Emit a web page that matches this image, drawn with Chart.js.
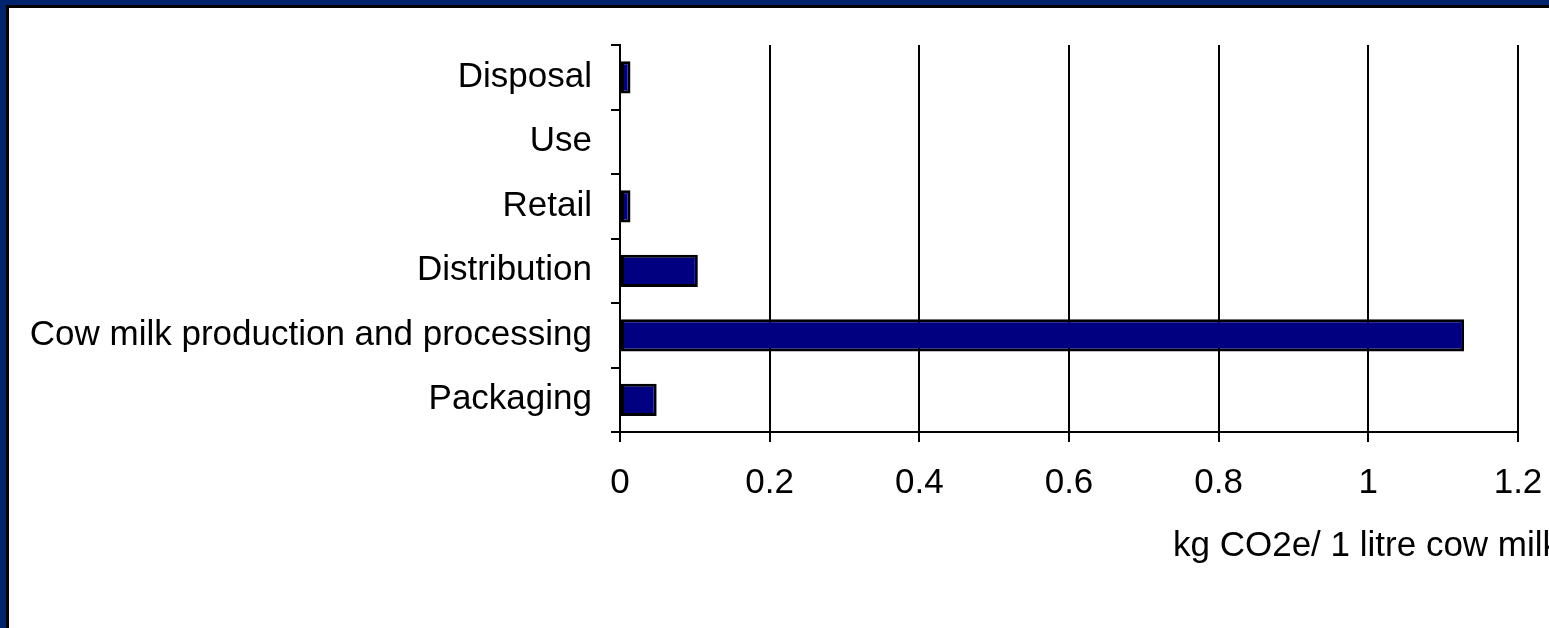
<!DOCTYPE html>
<html>
<head>
<meta charset="utf-8">
<script src="https://cdn.jsdelivr.net/npm/chart.js@4"></script>
<style>
  html, body { margin: 0; padding: 0; overflow: hidden; }
  body { width: 1549px; height: 628px; background: #00236e; position: relative; }
  #frame { position: absolute; left: 6px; top: 5px; right: 0; bottom: 0;
           border-top: 3px solid #000; border-left: 3px solid #000; background: #fff; }
  #wrap { position: absolute; left: 0; top: 0; width: 1549px; height: 628px; }
</style>
</head>
<body>
<div id="frame"></div>
<div id="wrap"><canvas id="chart" width="1549" height="628"></canvas></div>
<script>
const stages = ['Disposal', 'Use', 'Retail', 'Distribution', 'Cow milk production and processing', 'Packaging'];
const emissions = [0.014, 0, 0.014, 0.104, 1.128, 0.049];
const xTickLabels = ['0', '0.2', '0.4', '0.6', '0.8', '1', '1.2'];
const axisTitle = 'kg CO2e/ 1 litre cow milk';

const fontFamily = '"Liberation Sans", Arial, sans-serif';

// axis title sits right-aligned under the scale and runs off the edge
const axisTitlePlugin = {
  id: 'axisTitle',
  afterDraw(chart) {
    const ctx = chart.ctx;
    ctx.save();
    ctx.font = '35px ' + fontFamily;
    ctx.fillStyle = '#000';
    ctx.textAlign = 'left';
    ctx.textBaseline = 'middle';
    ctx.fillText(axisTitle, chart.chartArea.right - 345, 546);
    ctx.restore();
  }
};

new Chart(document.getElementById('chart'), {
  type: 'bar',
  data: {
    labels: stages,
    datasets: [{
      data: emissions,
      backgroundColor: '#000080',
      borderColor: '#000',
      borderWidth: 3,
      borderSkipped: false,
      barPercentage: 0.5,
      categoryPercentage: 1
    }]
  },
  options: {
    indexAxis: 'y',
    responsive: false,
    animation: false,
    layout: { padding: { top: 45, right: 31, left: 0, bottom: 0 } },
    plugins: { legend: { display: false }, tooltip: { enabled: false } },
    scales: {
      x: {
        min: 0,
        max: 1.2,
        ticks: {
          stepSize: 0.2,
          color: '#000',
          padding: 20,
          maxRotation: 0,
          font: { size: 35, family: fontFamily },
          callback: (v, i) => xTickLabels[i]
        },
        grid: { color: '#000', lineWidth: 2, tickLength: 10 },
        border: { color: '#000', width: 2 },
        afterFit: (s) => { s.height = 196; s.paddingRight = 0; s.paddingLeft = 0; }
      },
      y: {
        ticks: {
          color: '#000',
          padding: 19,
          font: { size: 35, family: fontFamily }
        },
        grid: { color: '#000', lineWidth: 2, tickLength: 9, drawOnChartArea: false },
        border: { color: '#000', width: 2 },
        afterFit: (s) => { s.width = 620; }
      }
    }
  },
  plugins: [axisTitlePlugin]
});
</script>
</body>
</html>
